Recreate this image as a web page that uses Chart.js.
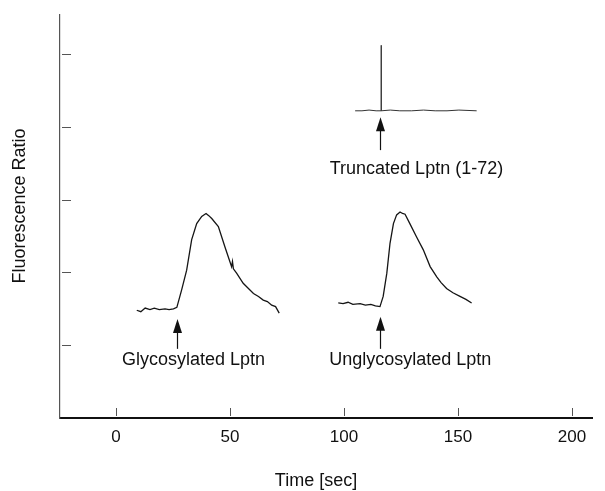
<!DOCTYPE html>
<html>
<head>
<meta charset="utf-8">
<script src="https://cdn.jsdelivr.net/npm/chart.js@4"></script>
<style>
  html, body { margin: 0; padding: 0; background: #fff; }
  #wrap { width: 605px; height: 491px; }
</style>
</head>
<body>
<div id="wrap"><canvas id="chart" width="605" height="491"></canvas></div>
<script>
// time axis [sec] and fluorescence ratio
const glycTime = [9.1, 10.9, 12.8, 14.9, 16.8, 19.0, 21.5, 23.3, 25.2, 26.7, 28.8, 31.0, 33.2, 35.4, 37.6, 39.5, 40.7, 42.0, 44.9, 47.8, 50.7, 51.1, 51.5, 52.9, 55.8, 58.1, 60.3, 62.5, 64.6, 66.4, 68.3, 70.0, 71.6];
const glycRatio = [1.48, 1.46, 1.51, 1.49, 1.51, 1.49, 1.50, 1.49, 1.50, 1.52, 1.76, 2.03, 2.45, 2.67, 2.77, 2.81, 2.78, 2.74, 2.63, 2.35, 2.08, 2.15, 2.05, 1.99, 1.85, 1.78, 1.71, 1.67, 1.62, 1.60, 1.55, 1.53, 1.44];

const unglycTime = [97.5, 99.6, 101.8, 103.9, 107.1, 109.4, 111.8, 113.8, 115.8, 117.2, 118.8, 120.2, 121.7, 123.1, 124.6, 125.7, 126.8, 128.9, 131.8, 134.8, 137.8, 140.7, 142.6, 145.0, 147.8, 150.9, 153.5, 156.0];
const unglycRatio = [1.58, 1.57, 1.59, 1.56, 1.57, 1.55, 1.56, 1.54, 1.53, 1.67, 1.99, 2.40, 2.67, 2.79, 2.83, 2.81, 2.80, 2.67, 2.49, 2.31, 2.08, 1.94, 1.86, 1.78, 1.72, 1.67, 1.63, 1.58];

const truncTime = [104.9, 107.9, 111.0, 114.1, 116.3, 116.3, 116.4, 120.3, 124.5, 129.7, 134.9, 140.0, 145.2, 150.4, 158.2];
const truncRatio = [4.22, 4.22, 4.23, 4.22, 4.22, 5.12, 4.22, 4.23, 4.22, 4.22, 4.23, 4.22, 4.22, 4.23, 4.22];

// tick values (y ticks carry no labels in the original)
const xTicks = [0, 50, 100, 150, 200];
const yTicks = [1, 2, 3, 4, 5];

// trace names, arrows marking the stimulus and where the names sit
const traceNames = ['Glycosylated Lptn', 'Unglycosylated Lptn', 'Truncated Lptn (1-72)'];
const arrowTime = [26.7, 115.8, 115.8];
const arrowTip = [1.36, 1.39, 4.13];
const arrowBase = [0.95, 0.95, 3.68];
const nameTime = [34.0, 129.1, 131.8];
const nameRatio = [0.79, 0.79, 3.42];

const FONT = '"Liberation Sans", Arial, Helvetica, sans-serif';

function toPoints(xs, ys) {
  return xs.map((v, i) => ({ x: v, y: ys[i] }));
}

// draws inward ticks, arrows, trace names and axis titles
const overlay = {
  id: 'overlay',
  afterDraw(chart) {
    const { ctx, chartArea: area, scales: { x, y } } = chart;
    ctx.save();

    // tick marks point into the plot
    ctx.strokeStyle = '#555';
    ctx.lineWidth = 1;
    x.ticks.forEach(t => {
      const px = Math.round(x.getPixelForValue(t.value)) + 0.5;
      ctx.beginPath();
      ctx.moveTo(px, area.bottom - 2);
      ctx.lineTo(px, area.bottom - 10);
      ctx.stroke();
    });
    y.ticks.forEach(t => {
      const py = Math.round(y.getPixelForValue(t.value)) + 0.5;
      ctx.beginPath();
      ctx.moveTo(area.left + 2, py);
      ctx.lineTo(area.left + 11, py);
      ctx.stroke();
    });

    // arrows
    ctx.strokeStyle = '#111';
    ctx.fillStyle = '#111';
    arrowTime.forEach((t, i) => {
      const px = Math.round(x.getPixelForValue(t)) + 0.5;
      const tip = y.getPixelForValue(arrowTip[i]);
      const base = y.getPixelForValue(arrowBase[i]);
      ctx.lineWidth = 1.2;
      ctx.beginPath();
      ctx.moveTo(px, base);
      ctx.lineTo(px, tip + 12);
      ctx.stroke();
      ctx.beginPath();
      ctx.moveTo(px, tip);
      ctx.lineTo(px - 4.5, tip + 14);
      ctx.lineTo(px + 4.5, tip + 14);
      ctx.closePath();
      ctx.fill();
    });

    // trace names
    ctx.font = '18px ' + FONT;
    ctx.textAlign = 'center';
    ctx.textBaseline = 'middle';
    traceNames.forEach((name, i) => {
      ctx.fillText(name, x.getPixelForValue(nameTime[i]), y.getPixelForValue(nameRatio[i]));
    });

    // axis titles
    ctx.fillText('Time [sec]', 316, 481);
    ctx.translate(20, 206);
    ctx.rotate(-Math.PI / 2);
    ctx.fillText('Fluorescence Ratio', 0, 0);

    ctx.restore();
  }
};

const traceStyle = {
  showLine: true,
  borderColor: '#151515',
  borderWidth: 1.3,
  pointRadius: 0,
  tension: 0,
  fill: false
};

new Chart(document.getElementById('chart'), {
  type: 'scatter',
  data: {
    datasets: [
      { label: traceNames[0], data: toPoints(glycTime, glycRatio), ...traceStyle },
      { label: traceNames[1], data: toPoints(unglycTime, unglycRatio), ...traceStyle },
      { label: traceNames[2], data: toPoints(truncTime, truncRatio), ...traceStyle, borderColor: '#333', borderWidth: 1 }
    ]
  },
  options: {
    responsive: false,
    animation: false,
    layout: { padding: { left: 0, top: 15, right: 13, bottom: 0 } },
    plugins: {
      legend: { display: false },
      tooltip: { enabled: false }
    },
    scales: {
      x: {
        type: 'linear',
        min: -24.56,
        max: 208.8,
        afterBuildTicks: axis => { axis.ticks = xTicks.map(v => ({ value: v })); },
        afterFit: scale => { scale.height = 73; scale.paddingLeft = 0; scale.paddingRight = 0; },
        grid: { display: false, drawTicks: false },
        border: { display: true, color: '#111', width: 2 },
        ticks: {
          color: '#111',
          padding: 9,
          maxRotation: 0,
          font: { family: FONT, size: 17 }
        }
      },
      y: {
        type: 'linear',
        min: 0,
        max: 5.536,
        afterBuildTicks: axis => { axis.ticks = yTicks.map(v => ({ value: v })); },
        afterFit: scale => { scale.width = 60; scale.paddingTop = 0; scale.paddingBottom = 0; },
        grid: { display: false, drawTicks: false },
        border: { display: true, color: '#555', width: 1.2 },
        ticks: { display: false }
      }
    }
  },
  plugins: [overlay]
});
</script>
</body>
</html>
